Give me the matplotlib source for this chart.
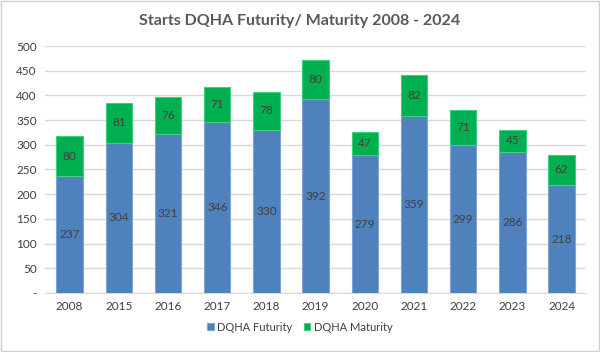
import matplotlib
matplotlib.use('Agg')
import matplotlib.pyplot as plt
import numpy as np

# ── Données ────────────────────────────────────────────────
years = ['2008', '2015', '2016', '2017', '2018', '2019',
         '2020', '2021', '2022', '2023', '2024']
futurity = [237, 304, 321, 346, 330, 392, 279, 359, 299, 286, 218]
maturity = [80, 81, 76, 71, 78, 80, 47, 82, 71, 45, 62]
yticks = [0, 50, 100, 150, 200, 250, 300, 350, 400, 450, 500]

plt.rcParams['font.family'] = ['Lato', 'DejaVu Sans']
txt = '#404040'

fig = plt.figure(figsize=(6.0, 3.52), dpi=100)
fig.patches.append(plt.Rectangle((0.002, 0.003), 0.996, 0.994,
                                 transform=fig.transFigure, fill=False,
                                 edgecolor='#d0d0d0', linewidth=1))
ax = fig.add_axes([0.075, 0.168, 0.902, 0.701])

x = np.arange(len(years))
w = 0.54
b1 = ax.bar(x, futurity, w, color='#4F81BD', edgecolor='#7FA3D3',
            linewidth=0.8, label='DQHA Futurity', zorder=3)
b2 = ax.bar(x, maturity, w, bottom=futurity, color='#00B050',
            edgecolor='#3FD07F', linewidth=0.8, label='DQHA Maturity',
            zorder=3)

for i in range(len(years)):
    ax.text(x[i], futurity[i] / 2, str(futurity[i]), ha='center',
            va='center', fontsize=8.5, color=txt, zorder=4)
    ax.text(x[i], futurity[i] + maturity[i] / 2, str(maturity[i]),
            ha='center', va='center', fontsize=8.5, color=txt, zorder=4)

ax.set_xlim(-0.5, len(years) - 0.5)
ax.set_ylim(0, 500)
ax.set_yticks(yticks)
ax.set_yticklabels(['-' if v == 0 else str(v) for v in yticks])
ax.set_xticks(x)
ax.set_xticklabels(years)
ax.tick_params(axis='both', length=0, labelsize=8.5, colors=txt)
ax.tick_params(axis='x', pad=6)
ax.tick_params(axis='y', pad=6)
ax.grid(axis='y', color='#d9d9d9', linewidth=1, zorder=0)
for s in ['top', 'right', 'left']:
    ax.spines[s].set_visible(False)
ax.spines['bottom'].set_color('#d9d9d9')

fig.text(0.5, 0.94, 'Starts DQHA Futurity/ Maturity 2008 - 2024',
         ha='center', va='center', fontsize=11.5, fontweight='bold',
         color='#595959')

fig.legend(handles=[b1, b2], loc='center', bbox_to_anchor=(0.5, 0.07),
           ncol=2, frameon=False, fontsize=8, labelcolor=txt,
           handlelength=0.6, handleheight=0.6, handletextpad=0.3,
           columnspacing=1.0)

plt.savefig('out.png', dpi=100)
plt.close()
